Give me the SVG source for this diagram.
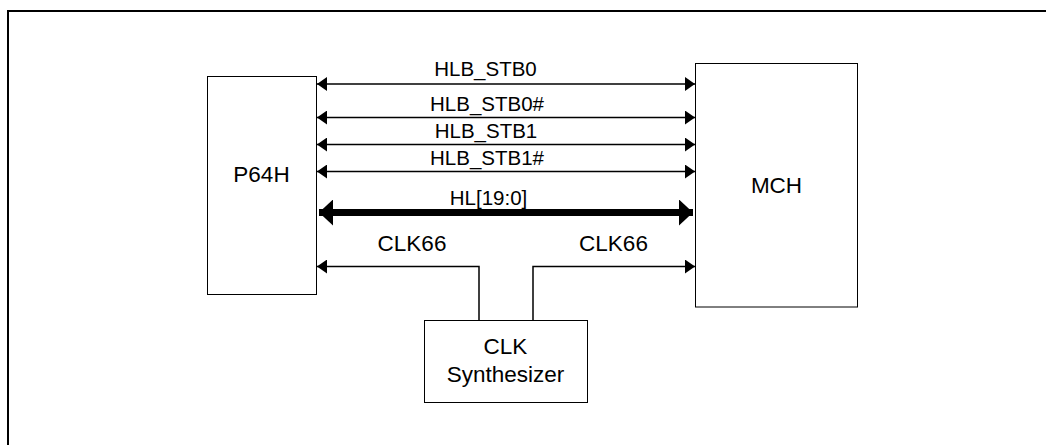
<svg xmlns="http://www.w3.org/2000/svg" width="1046" height="445" viewBox="0 0 1046 445">
<style>
.box{fill:#fff;stroke:#000;stroke-width:1}
.lbl{font-family:"Liberation Sans",Arial,sans-serif;font-size:22.5px;fill:#000;text-anchor:middle}
.sig{font-family:"Liberation Sans",Arial,sans-serif;font-size:20.5px;fill:#000;text-anchor:middle}
.thin{fill:none;stroke:#000;stroke-width:1.5;marker-start:url(#ah);marker-end:url(#ah)}
.clk{fill:none;stroke:#000;stroke-width:1.5;marker-end:url(#ah)}
.bus{fill:none;stroke:#000;stroke-width:7;marker-start:url(#ahb);marker-end:url(#ahb)}
</style>
<defs>
<marker id="ah" markerUnits="userSpaceOnUse" markerWidth="10" markerHeight="14" refX="10" refY="7" orient="auto-start-reverse">
<path d="M0,0 L10,7 L0,14 z" fill="#000"/>
</marker>
<marker id="ahb" markerUnits="userSpaceOnUse" markerWidth="14" markerHeight="26" refX="14" refY="13" orient="auto-start-reverse">
<path d="M0,0 L14,13 L0,26 z" fill="#000"/>
</marker>
</defs>
<path d="M8,445 V11 H1046" fill="none" stroke="#000" stroke-width="2"/>
<g id="connectors">
<line class="thin" x1="317" y1="84" x2="695" y2="84"/>
<line class="thin" x1="317" y1="117.5" x2="695" y2="117.5"/>
<line class="thin" x1="317" y1="144.5" x2="695" y2="144.5"/>
<line class="thin" x1="317" y1="171.5" x2="695" y2="171.5"/>
<line class="bus" x1="319" y1="212.5" x2="693" y2="212.5"/>
<path class="clk" d="M479,321 V266.5 H317"/>
<path class="clk" d="M533,321 V266.5 H695"/>
<text class="sig" x="485.5" y="75.5">HLB_STB0</text>
<text class="sig" x="487" y="110.5">HLB_STB0#</text>
<text class="sig" x="486" y="137.5">HLB_STB1</text>
<text class="sig" x="487" y="164.5">HLB_STB1#</text>
<text class="sig" x="488.5" y="205">HL[19:0]</text>
<text class="lbl" x="412" y="250.5">CLK66</text>
<text class="lbl" x="613.5" y="250.5">CLK66</text>
</g>
<g id="p64h">
<rect class="box" x="207.5" y="76.5" width="109" height="218"/>
<text class="lbl" x="261.5" y="181.5">P64H</text>
</g>
<g id="mch">
<rect class="box" x="695.5" y="63.5" width="162" height="243.5"/>
<text class="lbl" x="776.5" y="192.5">MCH</text>
</g>
<g id="clk-synth">
<rect class="box" x="424.5" y="320.5" width="163" height="82"/>
<text class="lbl" x="505.5" y="354">CLK</text>
<text class="lbl" x="505.5" y="382">Synthesizer</text>
</g>
</svg>
